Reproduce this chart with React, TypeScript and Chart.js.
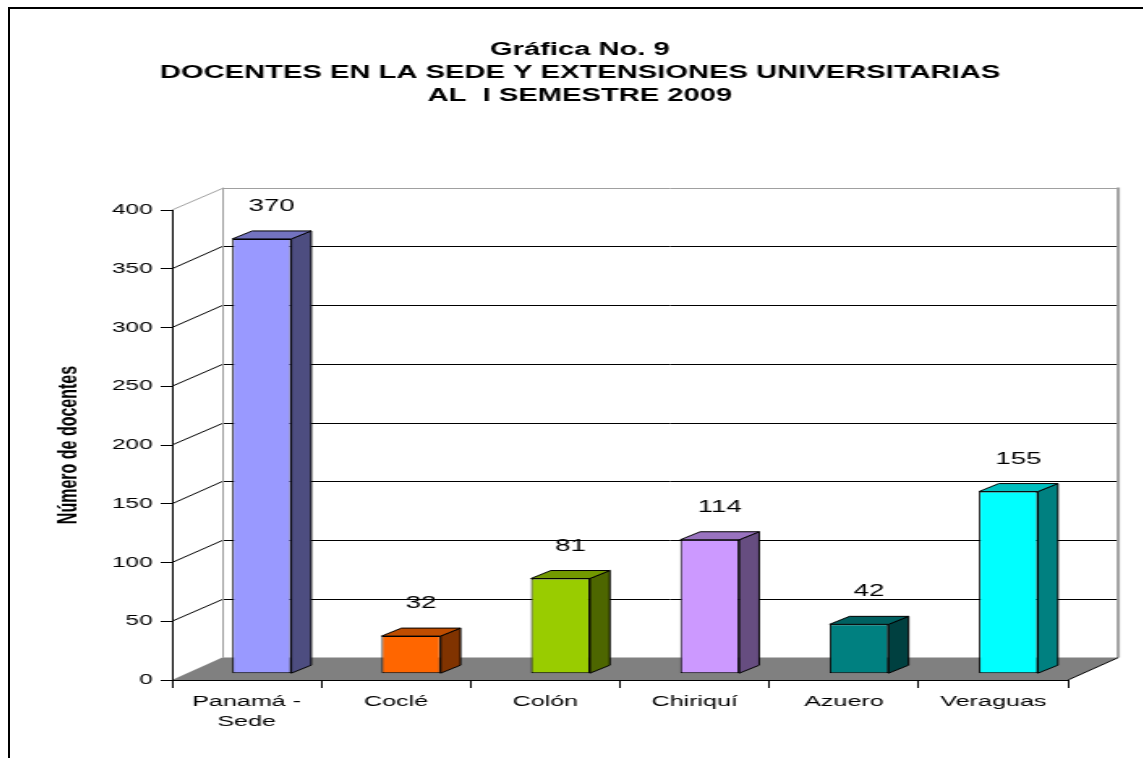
import React, { useEffect, useRef } from 'react';
import { Chart, registerables } from 'chart.js';

Chart.register(...registerables);

// ---- data ----
const categories: (string | string[])[] = [['Panamá -', 'Sede'], 'Coclé', 'Colón', 'Chiriquí', 'Azuero', 'Veraguas'];
const values = [370, 32, 81, 114, 42, 155];
const frontColors = ['#9999FF', '#FF6600', '#99CC00', '#CC99FF', '#008080', '#00FFFF'];
const sideColors = ['#4D4D80', '#803300', '#4D6600', '#664D80', '#004040', '#008080'];
const topColors = ['#7373BF', '#BF4D00', '#739900', '#9973BF', '#006060', '#00BFBF'];
const titleLines = ['Gráfica No. 9', 'DOCENTES EN LA SEDE Y EXTENSIONES UNIVERSITARIAS', 'AL  I SEMESTRE 2009'];
const yTitle = 'Número de docentes';
const yMin = 0;
const yMax = 400;
const yStep = 50;

// ---- geometry of the pseudo 3D look ----
const STRETCH = 1.62;
const CW = 700;
const CH = 749;
const PAD_L = 3.7;
const WALL_DX = 31;
const WALL_DY = -22.4;
const BAR_OX = 9.3;
const BAR_OY = -6.3;
const BAR_DX = 12.3;
const BAR_DY = -8;
const FONT = '"Liberation Sans", Arial, Helvetica, sans-serif';

const threeD = {
  id: 'threeD',
  beforeDraw(chart: any) {
    const { ctx, chartArea: a, scales } = chart;
    const ys = scales.y;
    const L = a.left, R = a.right, T = a.top, B = a.bottom;
    ctx.save();
    // left wall
    ctx.fillStyle = '#FFFFFF';
    ctx.beginPath();
    ctx.moveTo(L, T);
    ctx.lineTo(L + WALL_DX, T + WALL_DY);
    ctx.lineTo(L + WALL_DX, B + WALL_DY);
    ctx.lineTo(L, B);
    ctx.closePath();
    ctx.fill();
    // back wall
    ctx.fillRect(L + WALL_DX, T + WALL_DY, R - L, B - T);
    // grid lines on walls
    ctx.lineWidth = 1;
    ys.ticks.forEach((t: any) => {
      const v = t.value;
      if (v === yMin) return;
      const py = ys.getPixelForValue(v);
      const by = Math.round(py + WALL_DY) + 0.5;
      ctx.strokeStyle = v === yMax ? '#A0A0A0' : '#000000';
      ctx.beginPath();
      ctx.moveTo(L, py);
      ctx.lineTo(L + WALL_DX, by);
      ctx.lineTo(R + WALL_DX, by);
      ctx.stroke();
    });
    // wall edges
    ctx.strokeStyle = '#A0A0A0';
    ctx.beginPath();
    ctx.moveTo(L + WALL_DX + 0.5, T + WALL_DY);
    ctx.lineTo(L + WALL_DX + 0.5, B + WALL_DY);
    ctx.stroke();
    ctx.lineWidth = 2;
    ctx.beginPath();
    ctx.moveTo(R + WALL_DX, T + WALL_DY);
    ctx.lineTo(R + WALL_DX, B + WALL_DY);
    ctx.stroke();
    // floor
    ctx.fillStyle = '#808080';
    ctx.beginPath();
    ctx.moveTo(L, B);
    ctx.lineTo(R, B);
    ctx.lineTo(R + WALL_DX, B + WALL_DY);
    ctx.lineTo(L + WALL_DX, B + WALL_DY);
    ctx.closePath();
    ctx.fill();
    ctx.lineWidth = 1;
    ctx.strokeStyle = '#000000';
    ctx.beginPath();
    ctx.moveTo(R, B);
    ctx.lineTo(R + WALL_DX, B + WALL_DY);
    ctx.stroke();
    ctx.restore();
  },
  beforeDatasetsDraw(chart: any) {
    chart.ctx.save();
    chart.ctx.translate(BAR_OX, BAR_OY);
  },
  afterDatasetsDraw(chart: any) {
    const { ctx, scales } = chart;
    ctx.restore();
    const meta = chart.getDatasetMeta(0);
    ctx.save();
    ctx.lineWidth = 1;
    ctx.strokeStyle = '#000000';
    ctx.lineJoin = 'round';
    meta.data.forEach((el: any, i: number) => {
      const { x, y, base, width } = el.getProps(['x', 'y', 'base', 'width'], true);
      const l = x - width / 2 + BAR_OX;
      const r = x + width / 2 + BAR_OX;
      const t = y + BAR_OY;
      const b = base + BAR_OY;
      // side face
      ctx.fillStyle = sideColors[i];
      ctx.beginPath();
      ctx.moveTo(r, t);
      ctx.lineTo(r + BAR_DX, t + BAR_DY);
      ctx.lineTo(r + BAR_DX, b + BAR_DY);
      ctx.lineTo(r, b);
      ctx.closePath();
      ctx.fill();
      ctx.stroke();
      // top face
      ctx.fillStyle = topColors[i];
      ctx.beginPath();
      ctx.moveTo(l, t);
      ctx.lineTo(l + BAR_DX, t + BAR_DY);
      ctx.lineTo(r + BAR_DX, t + BAR_DY);
      ctx.lineTo(r, t);
      ctx.closePath();
      ctx.fill();
      ctx.stroke();
      // value label
      ctx.fillStyle = '#000000';
      ctx.font = `17px ${FONT}`;
      ctx.textAlign = 'center';
      ctx.textBaseline = 'middle';
      ctx.fillText(String(values[i]), x + BAR_OX + BAR_DX / 2, scales.y.getPixelForValue(values[i]) - 39);
    });
    ctx.restore();
  },
};

export default function App() {
  const ref = useRef<HTMLCanvasElement | null>(null);
  useEffect(() => {
    if (!ref.current) return;
    Chart.defaults.font.family = FONT;
    const chart = new Chart(ref.current, {
      type: 'bar',
      data: {
        labels: categories,
        datasets: [
          {
            data: values,
            backgroundColor: frontColors,
            borderColor: '#000000',
            borderWidth: 1,
            borderSkipped: false,
            barPercentage: 0.395,
            categoryPercentage: 1,
            yAxisID: 'y',
          },
        ],
      },
      options: {
        responsive: true,
        maintainAspectRatio: false,
        animation: false,
        events: [],
        layout: { padding: { left: PAD_L, right: 0, top: 0, bottom: 0 } },
        plugins: {
          legend: { display: false },
          tooltip: { enabled: false },
          title: {
            display: true,
            text: titleLines,
            color: '#000000',
            font: { family: FONT, size: 18, weight: 'bold', lineHeight: 23 / 18 },
            padding: { top: 29.5, bottom: 102.5 },
          },
        },
        scales: {
          x: {
            offset: true,
            grid: {
              display: true,
              offset: true,
              drawOnChartArea: false,
              drawTicks: true,
              tickLength: 8,
              color: '#000000',
            },
            border: { display: true, color: '#000000', width: 1 },
            ticks: {
              color: '#000000',
              font: { family: FONT, size: 15.5, lineHeight: 20 / 15.5 },
              padding: 4,
              maxRotation: 0,
              autoSkip: false,
            },
            afterFit: (s: any) => {
              s.height = 78;
            },
          },
          y: {
            min: yMin,
            max: yMax,
            grid: {
              display: true,
              drawOnChartArea: false,
              drawTicks: true,
              tickLength: 7,
              color: '#000000',
            },
            border: { display: true, color: '#000000', width: 1 },
            ticks: {
              stepSize: yStep,
              color: '#000000',
              font: { family: FONT, size: 15 },
              padding: 5,
            },
            title: {
              display: true,
              text: yTitle,
              color: '#000000',
              font: { family: FONT, size: 16, weight: 'bold', lineHeight: 1.2 },
              padding: { top: 27.4 - PAD_L, bottom: 0 },
            },
            afterFit: (s: any) => {
              s.width = 100 - PAD_L;
            },
          },
          yRight: {
            position: 'right',
            display: true,
            min: yMin,
            max: yMax,
            grid: { display: false, drawTicks: false },
            border: { display: false },
            ticks: { display: false },
            afterFit: (s: any) => {
              s.width = 46.9;
            },
          },
        },
      },
      plugins: [threeD],
    } as any);
    return () => chart.destroy();
  }, []);

  return (
    <div
      style={{
        position: 'fixed',
        left: 8,
        top: 7,
        width: 1135,
        height: 751,
        borderTop: '2px solid #000',
        borderLeft: '2px solid #000',
        boxSizing: 'border-box',
        overflow: 'hidden',
        background: '#fff',
      }}
    >
      <div
        style={{
          position: 'absolute',
          left: 0,
          top: 0,
          width: CW,
          height: CH,
          transform: `scaleX(${STRETCH})`,
          transformOrigin: '0 0',
        }}
      >
        <canvas ref={ref} />
      </div>
    </div>
  );
}
